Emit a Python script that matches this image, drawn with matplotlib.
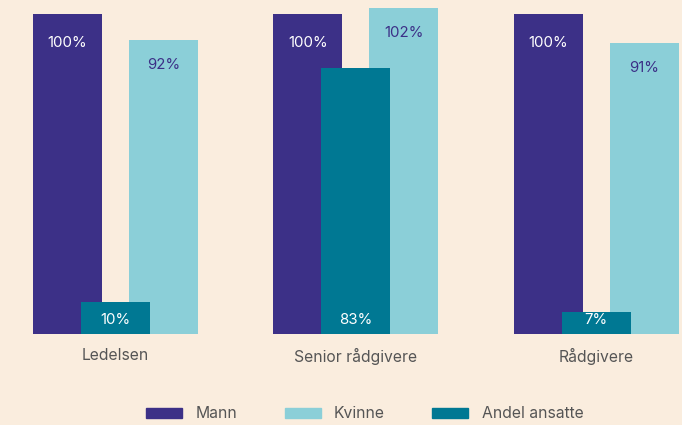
import matplotlib
matplotlib.use("Agg")
import matplotlib.pyplot as plt
from matplotlib.patches import Patch
import numpy as np

plt.rcParams['font.family'] = ['Inter', 'DejaVu Sans']

categories = ["Ledelsen", "Senior rådgivere", "Rådgivere"]
mann = [100, 100, 100]
kvinne = [92, 102, 91]
andel = [10, 83, 7]
series_names = ["Mann", "Kvinne", "Andel ansatte"]

bg = "#FAEDDE"
c_mann = "#3C3087"
c_kvinne = "#8BCFD8"
c_andel = "#007893"
c_text = "#555555"

fig = plt.figure(figsize=(6.82, 4.25), dpi=100, facecolor=bg)
# y=0 at 334 px from top, 3.2 px per percent
ymax = 103
bottom = (425 - 334) / 425
height = ymax * 3.2 / 425
ax = fig.add_axes([0, bottom, 1, height])
ax.set_facecolor(bg)

spacing = 240.3
x0 = 115.5
x = np.arange(len(categories))
ax.set_xlim(-x0 / spacing, (682 - x0) / spacing)
ax.set_ylim(0, ymax)

w = 69 / spacing
off = 48 / spacing

ax.bar(x - off, mann, w, color=c_mann, zorder=2)
ax.bar(x + off, kvinne, w, color=c_kvinne, zorder=2)
ax.bar(x, andel, w, color=c_andel, zorder=3)

fs = 10.8
for xi, v in zip(x, mann):
    ax.annotate(f"{v}%", (xi - off, v), xytext=(0, -29), textcoords="offset pixels",
                ha="center", va="center", color="white", fontsize=fs, zorder=4)
for xi, v in zip(x, kvinne):
    ax.annotate(f"{v}%", (xi + off, v), xytext=(0, -25), textcoords="offset pixels",
                ha="center", va="center", color=c_mann, fontsize=fs, zorder=4)
for xi, v in zip(x, andel):
    ax.annotate(f"{v}%", (xi, 0), xytext=(0, 14), textcoords="offset pixels",
                ha="center", va="center", color="white", fontsize=fs, zorder=4)

ax.set_xticks(x, categories)
ax.tick_params(axis="x", length=0, pad=10, labelsize=11.3, labelcolor=c_text)
ax.set_yticks([])
for s in ax.spines.values():
    s.set_visible(False)

handles = [Patch(color=c) for c in (c_mann, c_kvinne, c_andel)]
fig.legend(handles, series_names, loc="center", bbox_to_anchor=(0.535, 1 - 414 / 425),
           ncol=3, frameon=False, fontsize=11.3, labelcolor=c_text,
           handlelength=2.3, handleheight=0.65, handletextpad=0.85, columnspacing=3.0)

fig.savefig("out.png", dpi=100, facecolor=bg)
